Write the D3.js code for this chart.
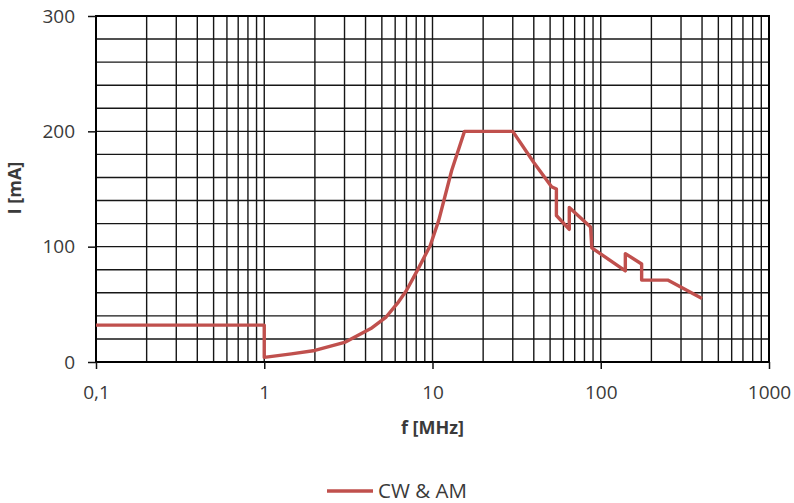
<!DOCTYPE html>
<html>
<head>
<meta charset="utf-8">
<script src="https://cdn.jsdelivr.net/npm/d3@7"></script>
<style>
  body { margin: 0; background: #fff; }
  text { font-family: 'Open Sans', 'Liberation Sans', sans-serif; fill: #3a3a3a; }
</style>
</head>
<body>
<svg id="chart" width="794" height="503"></svg>
<script>
// frequency in MHz and current in mA
const freq = [0.1, 1, 1, 1.45, 2, 3, 4.3, 5.3, 6.2, 7, 8.1, 9.7, 10.9, 13, 15.5, 30, 40, 51, 54.5, 54.5, 65, 65, 87, 88.5, 140, 140, 175, 175, 250, 400]
const current = [32, 32, 4, 7, 10, 17, 29, 39, 51, 62, 79, 101, 123, 166, 200, 200, 173, 152, 150, 127, 115, 134, 117, 99, 79, 94, 85, 71, 71, 55]

const xTicks = [0.1, 1, 10, 100, 1000]
const xTickLabels = ['0,1', '1', '10', '100', '1000']
const yTicks = [0, 100, 200, 300]
const seriesName = 'CW & AM'

const margin = { left: 96, top: 16 }
const width = 673
const height = 346

const svg = d3.select('#chart')
const g = svg.append('g')
  .attr('id', 'graph-g')
  .attr('transform', `translate(${margin.left},${margin.top})`)

const x = d3.scaleLog().domain([0.1, 1000]).range([0, width])
const y = d3.scaleLinear().domain([0, 300]).range([height, 0])

/**
 * Draws the dense log / linear grid and the frame of the plot.
 */
function drawGrid () {
  g.selectAll('.vgrid')
    .data(x.ticks())
    .enter()
    .append('line')
    .attr('class', 'vgrid')
    .attr('x1', d => x(d)).attr('x2', d => x(d))
    .attr('y1', 0).attr('y2', height)
    .attr('stroke', '#161616')
    .attr('stroke-width', 1.4)

  g.selectAll('.hgrid')
    .data(d3.range(0, 301, 20))
    .enter()
    .append('line')
    .attr('class', 'hgrid')
    .attr('x1', 0).attr('x2', width)
    .attr('y1', d => y(d)).attr('y2', d => y(d))
    .attr('stroke', '#161616')
    .attr('stroke-width', 1.4)

  g.append('rect')
    .attr('width', width)
    .attr('height', height)
    .attr('fill', 'none')
    .attr('stroke', '#000')
    .attr('stroke-width', 2)
}

/**
 * Draws both axes and their titles.
 */
function drawAxes () {
  const xAxis = g.append('g')
    .attr('transform', `translate(0,${height})`)
    .call(d3.axisBottom(x)
      .tickValues(xTicks)
      .tickFormat((d, i) => xTickLabels[i])
      .tickSize(7)
      .tickPadding(17))
  xAxis.select('.domain').remove()
  xAxis.selectAll('line').attr('stroke', '#111').attr('stroke-width', 1.5)
  xAxis.selectAll('text').style('font-size', '19px').attr('fill', '#3a3a3a')

  const yAxis = g.append('g')
    .call(d3.axisLeft(y)
      .tickValues(yTicks)
      .tickSize(8)
      .tickPadding(13))
  yAxis.select('.domain').remove()
  yAxis.selectAll('line').attr('stroke', '#111').attr('stroke-width', 1.5)
  yAxis.selectAll('text').style('font-size', '19px').attr('fill', '#3a3a3a')

  svg.append('text')
    .attr('x', margin.left + x(10))
    .attr('y', 434)
    .attr('text-anchor', 'middle')
    .style('font-size', '18px')
    .style('font-weight', 'bold')
    .text('f [MHz]')

  svg.append('text')
    .attr('transform', 'translate(21,188) rotate(-90)')
    .attr('text-anchor', 'middle')
    .style('font-size', '18px')
    .style('font-weight', 'bold')
    .text('I [mA]')
}

/**
 * Draws the current limit curve.
 */
function drawCurve () {
  const line = d3.line()
    .x(d => x(d[0]))
    .y(d => y(d[1]))

  g.append('path')
    .datum(d3.zip(freq, current))
    .attr('fill', 'none')
    .attr('stroke', '#c0504d')
    .attr('stroke-width', 3.4)
    .attr('stroke-linejoin', 'round')
    .attr('d', line)
}

/**
 * Draws the legend below the chart.
 */
function drawLegend () {
  svg.append('line')
    .attr('x1', 327).attr('x2', 373)
    .attr('y1', 491).attr('y2', 491)
    .attr('stroke', '#c0504d')
    .attr('stroke-width', 3.4)

  svg.append('text')
    .attr('x', 378)
    .attr('y', 498)
    .style('font-size', '20.5px')
    .text(seriesName)
}

drawGrid()
drawAxes()
drawCurve()
drawLegend()
</script>
</body>
</html>
